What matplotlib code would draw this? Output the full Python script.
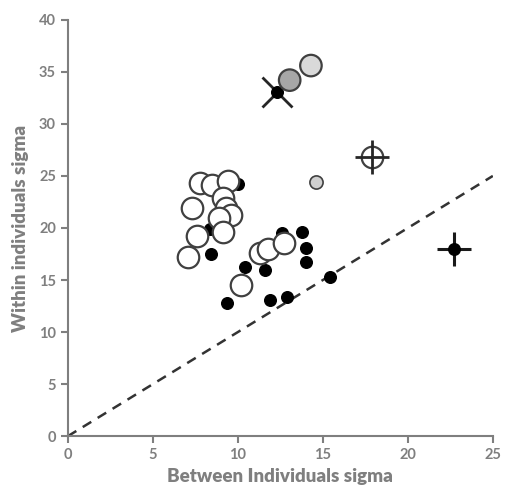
import matplotlib
matplotlib.use("Agg")
import matplotlib.pyplot as plt

plt.rcParams['font.family'] = ['Lato', 'DejaVu Sans']

# open circles (large, white fill)
open_x = [7.8, 8.5, 9.4, 7.3, 9.1, 9.3, 9.6, 8.9, 9.1, 7.6, 7.05, 10.2, 11.3, 11.8, 12.7]
open_y = [24.3, 24.1, 24.5, 21.9, 22.9, 21.9, 21.2, 21.0, 19.6, 19.2, 17.2, 14.5, 17.6, 18.0, 18.6]

# solid black dots (small)
solid_x = [10.0, 8.35, 8.4, 10.4, 9.35, 11.6, 12.6, 13.8, 14.0, 14.0, 15.4, 11.9, 12.9]
solid_y = [24.2, 19.9, 17.5, 16.3, 12.8, 16.0, 19.5, 19.6, 18.1, 16.7, 15.3, 13.1, 13.4]

# grey circles
grey_big_x = [13.05, 14.3]
grey_big_y = [34.2, 35.6]
grey_big_c = ['#a6a6a6', '#d9d9d9']
grey_small_x = [14.6]
grey_small_y = [24.4]

# special markers
x_mark = (12.3, 33.1)      # black dot with diagonal cross
circ_plus = (17.9, 26.8)   # open circle with plus
dot_plus = (22.7, 18.0)    # black dot with plus

line_x = [0, 25]
line_y = [0, 25]

axis_grey = '#7f7f7f'
edge = '#404040'

fig = plt.figure(figsize=(5.06, 4.94), dpi=100)
ax = fig.add_axes([0.134, 0.117, 0.840, 0.843])

ax.plot(line_x, line_y, linestyle=(0, (4, 3)), color='#333333', lw=1.8, zorder=1)

ax.scatter(solid_x, solid_y, s=70, color='black', zorder=2)
ax.scatter(open_x, open_y, s=240, facecolor='white', edgecolor=edge, linewidth=1.6, zorder=3)

# dot with X (sits behind the grey circle)
ax.plot(*x_mark, marker='x', ms=22, mew=2.0, color='#262626', zorder=2)
ax.scatter(*x_mark, s=70, color='black', zorder=2.5)

ax.scatter(grey_big_x, grey_big_y, s=240, facecolor=grey_big_c, edgecolor=edge, linewidth=1.6, zorder=3)
ax.scatter(grey_small_x, grey_small_y, s=90, facecolor='#d0d0d0', edgecolor=edge, linewidth=1.2, zorder=3)

# circle with plus
ax.scatter(*circ_plus, s=240, facecolor='white', edgecolor=edge, linewidth=1.6, zorder=4)
ax.plot(*circ_plus, marker='+', ms=25, mew=2.0, color='#262626', zorder=5)

# dot with plus
ax.plot(*dot_plus, marker='+', ms=25, mew=2.2, color='#1a1a1a', zorder=4)
ax.scatter(*dot_plus, s=70, color='black', zorder=5)

ax.set_xlim(0, 25)
ax.set_ylim(0, 40)
ax.set_xticks(range(0, 26, 5))
ax.set_yticks(range(0, 41, 5))

for side in ['top', 'right']:
    ax.spines[side].set_visible(False)
for side in ['left', 'bottom']:
    ax.spines[side].set_color(axis_grey)
    ax.spines[side].set_linewidth(1.5)

ax.tick_params(axis='both', direction='out', length=5, width=1.5, color=axis_grey,
               labelcolor=axis_grey, labelsize=10.5)
for lbl in ax.get_xticklabels() + ax.get_yticklabels():
    lbl.set_fontweight('bold')

ax.set_xlabel('Between Individuals sigma', fontsize=13.5, fontweight='heavy', color=axis_grey, labelpad=4)
ax.set_ylabel('Within individuals sigma', fontsize=13.5, fontweight='heavy', color=axis_grey, labelpad=7)

fig.savefig('out.png', dpi=100)
